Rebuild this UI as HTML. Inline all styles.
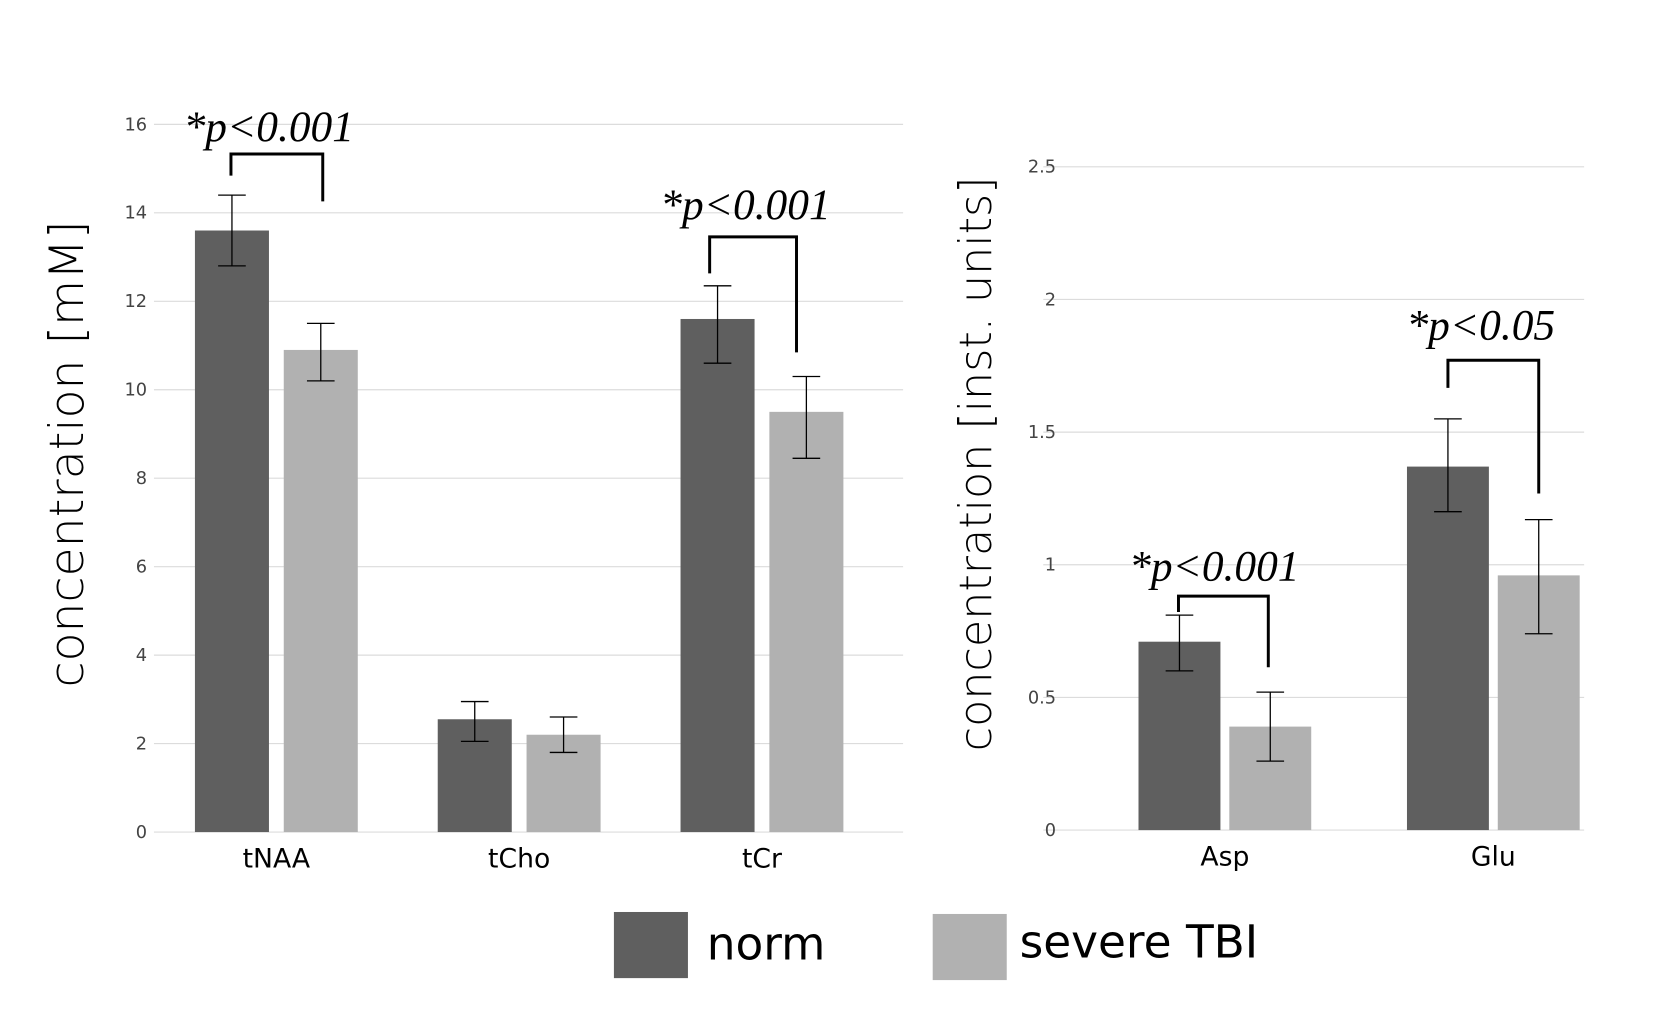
<!DOCTYPE html>
<html><head><meta charset="utf-8"><style>
html,body{margin:0;padding:0;background:#fff}
svg{display:block}
text{font-family:"DejaVu Sans","Liberation Sans",sans-serif}
.ann{font-family:"Liberation Serif",serif;font-style:italic;font-size:44px;fill:#000}
</style></head><body>
<svg id="chart" width="1662" height="1016" viewBox="0 0 1662 1016" xmlns="http://www.w3.org/2000/svg">
<g id="root" transform="scale(0.987)">
<text x="0" y="0" transform="translate(84,460) rotate(-90)" text-anchor="middle" font-size="48" fill="#000" font-weight="300">concentration [mM]</text>
<text x="0" y="0" transform="translate(1004,470) rotate(-90)" text-anchor="middle" font-size="45" fill="#000" font-weight="300">concentration [inst. units]</text>
<g id="left"></g>
<g id="right"></g>
<rect x="622" y="924" width="75" height="67" fill="#5f5f5f"/>
<text x="716" y="972" font-size="46" fill="#000">norm</text>
<rect x="945" y="926" width="75" height="67" fill="#b1b1b1"/>
<text x="1033" y="970" font-size="46" fill="#000">severe TBI</text>
</g>
</svg>
<script>
const NS='http://www.w3.org/2000/svg';
const leftCats=['tNAA','tCho','tCr'];
const leftNorm=[13.6,2.55,11.6];
const leftNormLo=[12.8,2.05,10.6];
const leftNormHi=[14.4,2.95,12.35];
const leftTbi=[10.9,2.2,9.5];
const leftTbiLo=[10.2,1.8,8.45];
const leftTbiHi=[11.5,2.6,10.3];
const leftTicks=[0,2,4,6,8,10,12,14,16];
const rightCats=['Asp','Glu'];
const rightNorm=[0.71,1.37];
const rightNormLo=[0.6,1.2];
const rightNormHi=[0.81,1.55];
const rightTbi=[0.39,0.96];
const rightTbiLo=[0.26,0.74];
const rightTbiHi=[0.52,1.17];
const rightTicks=[0,0.5,1,1.5,2,2.5];
const rightTickLabels=['0','0.5','1','1.5','2','2.5'];

function mk(parent,tag,attrs){const e=document.createElementNS(NS,tag);for(const k in attrs)e.setAttribute(k,attrs[k]);parent.appendChild(e);return e;}

function draw(g,cfg){
  const y=v=>cfg.y0-(v-cfg.vmin)/(cfg.vmax-cfg.vmin)*(cfg.y0-cfg.y1);
  cfg.ticks.forEach((t,i)=>{
    const l=mk(g,'line',{x1:cfg.gx0,x2:cfg.gx1,y1:y(t),y2:y(t),stroke:'#dcdcdc','stroke-width':1.2});
    
    
    const tx=mk(g,'text',{x:cfg.tickX,y:y(t)+6,'text-anchor':'end','font-size':18,fill:'#444'});
    tx.textContent=cfg.tickLabels?cfg.tickLabels[i]:String(t);
    
    
  });
  cfg.cats.forEach((c,i)=>{
    const cx=cfg.c0+i*cfg.step;
    [[cfg.norm,cfg.normLo,cfg.normHi,'#5f5f5f',cx-cfg.off,'norm'],[cfg.tbi,cfg.tbiLo,cfg.tbiHi,'#b1b1b1',cx+cfg.off,'tbi']].forEach(s=>{
      const v=s[0][i],bx=s[4];
      const r=mk(g,'rect',{x:bx-cfg.bw/2,y:y(v),width:cfg.bw,height:y(cfg.vmin)-y(v),fill:s[3]});
      
      
      const lo=y(s[1][i]),hi=y(s[2][i]);
      const eg=mk(g,'g',{stroke:'#000','stroke-width':1.3});
      
      
      mk(eg,'line',{x1:bx,x2:bx,y1:lo,y2:hi});
      mk(eg,'line',{x1:bx-14,x2:bx+14,y1:lo,y2:lo});
      mk(eg,'line',{x1:bx-14,x2:bx+14,y1:hi,y2:hi});
    });
    const t=mk(g,'text',{x:cx,y:cfg.labY,'text-anchor':'middle','font-size':27,fill:'#000'});
    t.textContent=c;
    
    
  });
}
draw(document.getElementById('left'),{cats:leftCats,norm:leftNorm,normLo:leftNormLo,normHi:leftNormHi,tbi:leftTbi,tbiLo:leftTbiLo,tbiHi:leftTbiHi,ticks:leftTicks,vmin:0,vmax:16,y0:843,y1:126,gx0:156,gx1:915,tickX:149,c0:280,step:246,off:45,bw:75,labY:879});
draw(document.getElementById('right'),{cats:rightCats,norm:rightNorm,normLo:rightNormLo,normHi:rightNormHi,tbi:rightTbi,tbiLo:rightTbiLo,tbiHi:rightTbiHi,ticks:rightTicks,tickLabels:rightTickLabels,vmin:0,vmax:2.5,y0:841,y1:169,gx0:1057,gx1:1605,tickX:1070,c0:1241,step:272,off:46,bw:83,labY:877});

const anns=[
 {t:'*p<0.001',x:186,y:143,x1:234,x2:327,top:156,lb:178,rb:204},
 {t:'*p<0.001',x:669,y:222,x1:719,x2:807,top:240,lb:277,rb:357},
 {t:'*p<0.001',x:1144,y:588,x1:1194,x2:1285,top:604,lb:620,rb:676},
 {t:'*p<0.05',x:1425,y:344,x1:1467,x2:1559,top:365,lb:393,rb:500}
];
const root=document.getElementById('root');
anns.forEach(a=>{
  const t=mk(root,'text',{x:a.x,y:a.y,class:'ann'});
  t.textContent=a.t;
  
  
  const p=mk(root,'path',{d:`M${a.x1},${a.lb}V${a.top}H${a.x2}V${a.rb}`,fill:'none',stroke:'#000','stroke-width':3});
  
  
});
</script>
</body></html>
